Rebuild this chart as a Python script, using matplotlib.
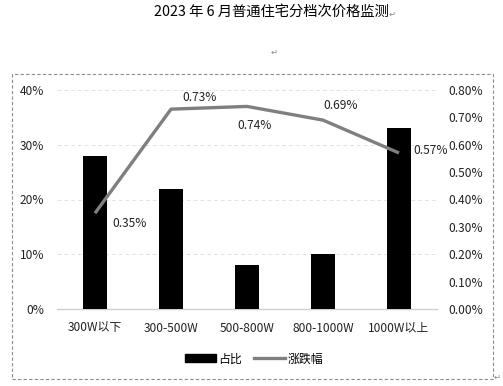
import matplotlib
matplotlib.use("Agg")
import matplotlib.pyplot as plt
from matplotlib.patches import Rectangle
from matplotlib.ticker import FuncFormatter
from matplotlib.lines import Line2D

plt.rcParams['font.family'] = ['Noto Sans CJK SC', 'DejaVu Sans']

categories = ["300W以下", "300-500W", "500-800W", "800-1000W", "1000W以上"]
share = [28, 22, 8, 10, 33]          # 占比 (%)
change = [0.35, 0.73, 0.74, 0.69, 0.57]  # 涨跌幅 (%)
title = "2023 年 6 月普通住宅分档次价格监测"

W, H = 503, 386
fig = plt.figure(figsize=(W/100, H/100), dpi=100)

def fx(px): return px / W
def fy(py): return 1 - py / H

FS = 8.6
ax = fig.add_axes([fx(57), fy(309), fx(437) - fx(57), fy(90) - fy(309)])
x = list(range(len(categories)))
ax.bar(x, share, width=0.31, color='black', zorder=3, label='占比')
ax.set_xlim(-0.5, 4.5)
ax.set_ylim(0, 40)
ax.set_yticks([0, 10, 20, 30, 40])
ax.yaxis.set_major_formatter(FuncFormatter(lambda v, p: f"{v:.0f}%"))
for yv in [10, 20, 30, 40]:
    ax.axhline(yv, color='#e3e3e3', lw=0.7, ls=(0, (4, 3)), zorder=1)
for s in ['top', 'right', 'left']:
    ax.spines[s].set_visible(False)
ax.spines['bottom'].set_color('#d0d0d0')
ax.spines['bottom'].set_linewidth(1)
ax.set_xticks(x)
ax.set_xticklabels(categories)
ax.tick_params(axis='both', length=0, labelsize=FS, colors='#222222')
ax.tick_params(axis='y', pad=9)
ax.tick_params(axis='x', pad=9)

ax2 = ax.twinx()
ax2.plot(x, change, color='#7f7f7f', lw=2.4, zorder=4, label='涨跌幅', solid_capstyle='butt')
ax2.set_ylim(0, 0.8)
ax2.set_yticks([i / 10 for i in range(9)])
ax2.yaxis.set_major_formatter(FuncFormatter(lambda v, p: f"{v:.2f}%"))
ax2.tick_params(axis='y', length=0, labelsize=FS, colors='#222222', pad=8)
for s in ax2.spines.values():
    s.set_visible(False)

offsets = [(17, -10, 'left'), (29, 12, 'center'), (8, -19, 'center'), (18, 15, 'center'), (14, 2, 'left')]
for xi, v, (dx, dy, ha) in zip(x, change, offsets):
    ax2.annotate(f"{v:.2f}%", (xi, v), xytext=(dx, dy), textcoords='offset pixels',
                 ha=ha, va='center', fontsize=FS, color='#222222')

handles = [Rectangle((0, 0), 1, 1, color='black'), Line2D([0], [0], color='#7f7f7f', lw=2.4)]
fig.legend(handles, ['占比', '涨跌幅'], loc='center', bbox_to_anchor=(fx(254), fy(359)),
           ncol=2, frameon=False, fontsize=FS, handlelength=2.6, handleheight=0.6,
           columnspacing=1.0, handletextpad=0.2)

fig.text(fx(271), fy(12), title, ha='center', va='center', fontsize=10.3, color='black')
fig.text(fx(392), fy(14), "↵", ha='center', va='center', fontsize=6, color='#888888',
         family=['DejaVu Sans'])
fig.text(fx(274), fy(52), "↵", ha='center', va='center', fontsize=6, color='#888888',
         family=['DejaVu Sans'])
fig.text(fx(497), fy(377), "↵", ha='center', va='center', fontsize=6, color='#888888',
         family=['DejaVu Sans'])

border = Rectangle((fx(12), fy(379)), fx(493) - fx(12), fy(74) - fy(379), transform=fig.transFigure,
                   fill=False, edgecolor='#8c8c8c', lw=0.8, ls=(0, (3, 2)))
fig.patches.append(border)

fig.savefig("out.png", dpi=100)
